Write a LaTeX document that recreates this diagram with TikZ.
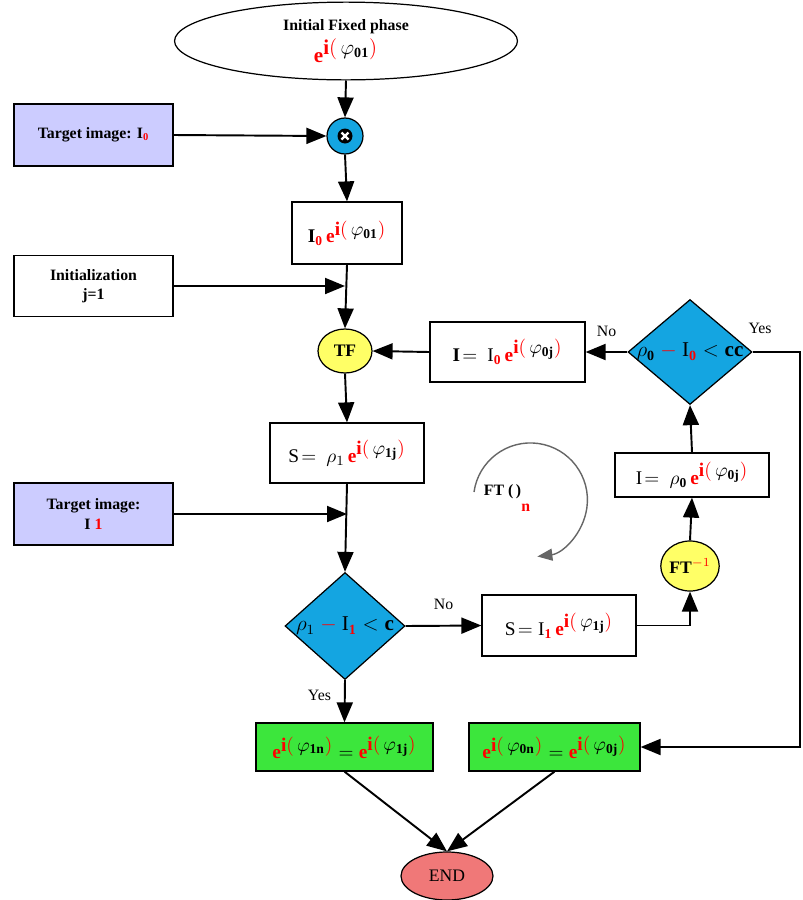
\documentclass[tikz,border=0pt]{standalone}
\usepackage{fontspec}
\setmainfont{Liberation Serif}
\usepackage{amsmath}
\usetikzlibrary{shapes.geometric,arrows.meta}

\definecolor{lavbox}{RGB}{204,204,255}
\definecolor{mulblue}{RGB}{20,165,225}
\definecolor{tfyellow}{RGB}{255,255,102}
\definecolor{okgreen}{RGB}{60,230,60}
\definecolor{endred}{RGB}{240,120,120}

\newcommand{\rd}[1]{\textcolor{red}{#1}}
\newcommand{\ephase}[1]{\rd{\mathbf{e}}^{\textstyle\rd{\mathbf{i(}}\,\varphi_{\mathbf{#1}}\rd{\mathbf{)}}}}

\begin{document}
\begin{tikzpicture}[x=0.02cm,y=-0.02cm,
  box/.style={draw,rectangle,inner sep=0pt,line width=0.7pt,align=center,
    font=\bfseries\fontsize{9}{11}\selectfont},
  fbox/.style={box,font=\fontsize{11}{13}\selectfont},
  rhomb/.style={draw,diamond,fill=mulblue,inner sep=0pt,line width=0.7pt},
  arr/.style={line width=1.1pt,-{Triangle[length=4mm,width=3.2mm]}},
  lbl/.style={font=\fontsize{9}{11}\selectfont}]

\useasboundingbox (0,0) rectangle (803,900) ;

% left column
\node [ellipse,draw,line width=0.7pt,minimum width=6.86cm,minimum height=1.34cm,align=center,
  font=\bfseries\fontsize{9}{11}\selectfont] (init) at (346,41)
  {Initial Fixed phase\\[2pt] {\large $\ephase{01}$}} ;
\node [box,fill=lavbox,minimum width=3.18cm,minimum height=1.24cm] (tgt0) at (93.5,135)
  {Target image: I$_{\rd{\mathbf{0}}}$} ;
\node [circle,draw,fill=mulblue,line width=0.7pt,minimum size=0.72cm,inner sep=0pt] (mult) at (345,136) {} ;
\fill (mult.center) circle (0.15cm) ;
\draw [white,line width=1.3pt] ([shift={(-0.07cm,-0.07cm)}]mult.center) -- ([shift={(0.07cm,0.07cm)}]mult.center) ;
\draw [white,line width=1.3pt] ([shift={(-0.07cm,0.07cm)}]mult.center) -- ([shift={(0.07cm,-0.07cm)}]mult.center) ;
\node [fbox,minimum width=2.2cm,minimum height=1.24cm] (phase0) at (347,233)
  {$\mathbf{I}_{\rd{\mathbf{0}}}\,\ephase{01}$} ;
\node [box,minimum width=3.18cm,minimum height=1.22cm] (initz) at (93.5,286)
  {Initialization\\ j=1} ;
\node [ellipse,draw,fill=tfyellow,line width=0.7pt,minimum width=1.08cm,minimum height=0.88cm,
  inner sep=0pt,font=\bfseries\fontsize{10}{12}\selectfont] (tf) at (345,351) {TF} ;
\node [fbox,minimum width=3.08cm,minimum height=1.2cm] (sbox) at (347,453)
  {$\mathrm{S}\!=\ \rho_{1}\,\ephase{1j}$} ;
\node [box,fill=lavbox,minimum width=3.18cm,minimum height=1.24cm] (tgt1) at (93.5,514)
  {Target image:\\ I \rd{1}} ;
\node [rhomb,minimum width=2.4cm,minimum height=2.14cm,
  label={[font=\fontsize{12}{14}\selectfont]center:$\rho_{1}\ \rd{\mathbf{-}}\ \mathrm{I}_{\rd{\mathbf{1}}}<\mathbf{c}$}] (test1) at (345,626) {} ;
\node [fbox,minimum width=3.54cm,minimum height=0.96cm,fill=okgreen] (green1) at (344.5,747)
  {$\ephase{1n}=\ephase{1j}$} ;

% right column
\node [rhomb,minimum width=2.48cm,minimum height=2.1cm,
  label={[font=\fontsize{12}{14}\selectfont]center:$\rho_{\mathbf{0}}\ \rd{\mathbf{-}}\ \mathrm{I}_{\rd{\mathbf{0}}}<\mathbf{cc}$}] (test0) at (690,352) {} ;
\node [fbox,minimum width=3.1cm,minimum height=1.2cm] (ibox) at (507.5,352)
  {$\mathbf{I}\!=\ \mathrm{I}_{\rd{\mathbf{0}}}\,\ephase{0j}$} ;
\node [fbox,minimum width=3.08cm,minimum height=0.88cm] (rho0box) at (692,475)
  {$\mathrm{I}\!=\ \rho_{\mathbf{0}}\,\ephase{0j}$} ;
\node [ellipse,draw,fill=tfyellow,line width=0.7pt,minimum width=1.06cm,minimum height=1.0cm,
  inner sep=0pt,font=\bfseries\fontsize{10}{12}\selectfont] (ftinv) at (690,566) {FT$^{\rd{-1}}$} ;
\node [fbox,minimum width=3.08cm,minimum height=1.22cm] (sbox2) at (559,625.5)
  {$\mathrm{S}\!=\mathrm{I}_{\rd{\mathbf{1}}}\,\ephase{1j}$} ;
\node [fbox,minimum width=3.42cm,minimum height=0.96cm,fill=okgreen] (green2) at (554.5,747)
  {$\ephase{0n}=\ephase{0j}$} ;
\node [ellipse,draw,fill=endred,line width=0.7pt,minimum width=1.84cm,minimum height=0.96cm,
  font=\fontsize{10}{12}\selectfont] (endn) at (447,876) {END} ;

% loop mark
\coordinate (ftloop) at (474,492) ;
\draw [gray!80!black,line width=0.8pt,-{Triangle[length=3mm,width=2.4mm]}] (ftloop) arc [start angle=172,end angle=-83,radius=1.14cm] ;
\node [lbl,font=\bfseries\fontsize{9}{11}\selectfont] (ftlbl) at (507,498) {FT (\,)\raisebox{-9pt}{\rd{n}}} ;

% connectors
\draw [arr] (init.south) -- (mult.north) ;
\draw [arr] (tgt0.east) -- (mult.west) ;
\draw [arr] (mult.south) -- (phase0.north) ;
\draw [arr] (phase0.south) -- (tf.north) ;
\draw [arr] (initz.east) -- (initz.east -| tf.north) ;
\draw [arr] (tf.south) -- (sbox.north) ;
\draw [arr] (sbox.south) -- (test1.north) ;
\draw [arr] (tgt1.east) -- (tgt1.east -| sbox.south) ;
\draw [arr] (test1.east) -- node [lbl,above=5pt] {No} (sbox2.west) ;
\draw [arr] (sbox2.east) -| (ftinv.south) ;
\draw [arr] (ftinv.north) -- (rho0box.south) ;
\draw [arr] (rho0box.north) -- (test0.south) ;
\draw [arr] (test0.west) -- node [lbl,above=5pt] {No} (ibox.east) ;
\draw [arr] (ibox.west) -- (tf.east) ;
\coordinate (rside) at (800,352) ;
\draw [arr] (test0.east) -- (rside) |- (green2.east) ;
\node [lbl] at (760,328) {Yes} ;
\draw [arr] (test1.south) -- node [lbl,left=4pt,pos=0.35] {Yes} (green1.north) ;
\draw [arr] (green1.south) -- (endn.north) ;
\draw [arr] (green2.south) -- (endn.north) ;

\end{tikzpicture}
\end{document}
